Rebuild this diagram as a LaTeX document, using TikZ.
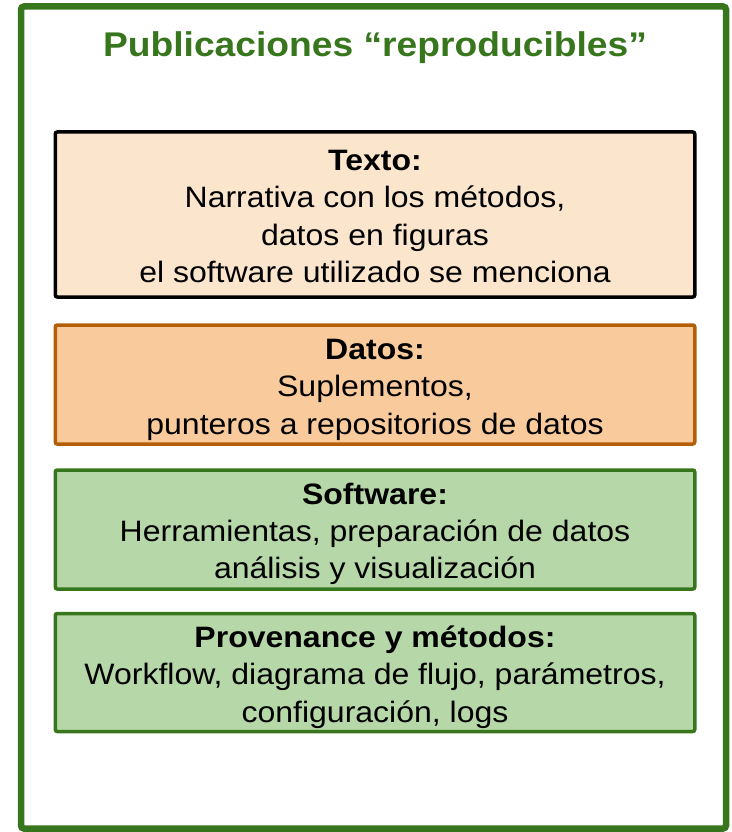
\documentclass[tikz,border=0pt]{standalone}
\usepackage{fontspec}
\setmainfont{Liberation Sans}[FakeStretch=1.085]
\usepackage{xcolor}
\definecolor{darkgreen}{HTML}{38761D}
\definecolor{lightgreen}{HTML}{B6D7A8}
\definecolor{lightorange}{HTML}{FCE5CD}
\definecolor{midorange}{HTML}{F9CB9C}
\definecolor{darkorange}{HTML}{B45F06}
\newcommand{\hd}[1]{\rule{0pt}{22pt}\textbf{#1}}

\begin{document}
\begin{tikzpicture}[x=1pt,y=-1pt]
		\tikzset{frame/.style = {draw=darkgreen, line width=6.5pt, rounded corners=3pt}}
		\tikzset{box/.style = {shape=rectangle, draw, line width=3.5pt, rounded corners=2pt, minimum width=639.5pt, inner sep=0pt}}
		\tikzset{txt/.style = {anchor=north, align=center, inner sep=0pt, font=\fontsize{29.5}{37.3}\selectfont}}

		\useasboundingbox (0,0) rectangle (731,832);
		\draw[frame] (21,6.5) rectangle (726,828.5);

		\node[anchor=base, text=darkgreen, font=\bfseries\fontsize{34.3}{40}\selectfont] (titulo) at (375,57) {Publicaciones “reproducibles”};

		\node[box, fill=lightorange, draw=black, minimum height=165pt] (texto) at (375,214.5) {};
		\node[box, fill=midorange, draw=darkorange, minimum height=119pt] (datos) at (375,384.5) {};
		\node[box, fill=lightgreen, draw=darkgreen, minimum height=119pt] (software) at (375,529.5) {};
		\node[box, fill=lightgreen, draw=darkgreen, minimum height=118pt] (metodos) at (375,672.5) {};

		\node[txt] (textoTxt) at (375,148.2) {\hd{Texto:}\\Narrativa con los métodos,\\datos en figuras\\el software utilizado se menciona};
		\node[txt] (datosTxt) at (375,337.3) {\hd{Datos:}\\Suplementos,\\punteros a repositorios de datos};
		\node[txt] (softwareTxt) at (375,482) {\hd{Software:}\\Herramientas, preparación de datos\\análisis y visualización};
		\node[txt] (metodosTxt) at (375,625.3) {\hd{Provenance y métodos:}\\Workflow, diagrama de flujo, parámetros,\\configuración, logs};

	\end{tikzpicture}
\end{document}
